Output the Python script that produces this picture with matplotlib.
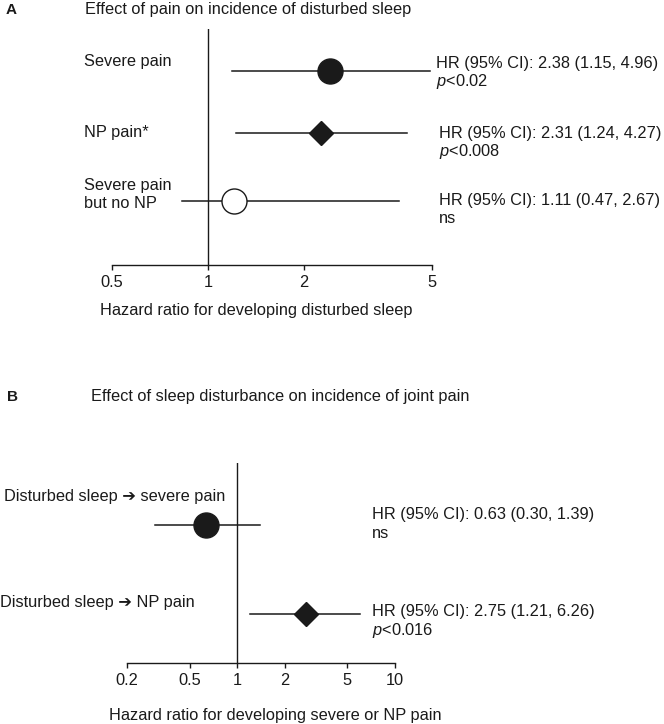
import matplotlib
matplotlib.use("Agg")
import matplotlib.pyplot as plt

plt.rcParams['font.family'] = ['Liberation Sans', 'DejaVu Sans']
plt.rcParams['mathtext.fontset'] = 'custom'
plt.rcParams['mathtext.rm'] = 'Liberation Sans'
plt.rcParams['mathtext.it'] = 'Liberation Sans:italic'

# --- data (hazard ratios as drawn, with 95% CI ends) ---
labels_a = ["Severe pain", "NP pain*", "Severe pain\nbut no NP"]
hr_a = [2.40, 2.25, 1.21]
lo_a = [1.19, 1.22, 0.83]
hi_a = [4.96, 4.20, 3.96]
stats_a = ["HR (95% CI): 2.38 (1.15, 4.96)", "HR (95% CI): 2.31 (1.24, 4.27)",
           "HR (95% CI): 1.11 (0.47, 2.67)"]
sig_a = ["$p$<0.02", "$p$<0.008", "ns"]
ticks_a = [0.5, 1, 2, 5]
ticklabels_a = ["0.5", "1", "2", "5"]

labels_b = ["Disturbed sleep \u2794 severe pain", "Disturbed sleep \u2794 NP pain"]
hr_b = [0.63, 2.75]
lo_b = [0.30, 1.21]
hi_b = [1.39, 6.00]
stats_b = ["HR (95% CI): 0.63 (0.30, 1.39)", "HR (95% CI): 2.75 (1.21, 6.26)"]
sig_b = ["ns", "$p$<0.016"]
ticks_b = [0.2, 0.5, 1, 2, 5, 10]
ticklabels_b = ["0.2", "0.5", "1", "2", "5", "10"]

# --- layout in pixels (664 x 724) ---
W, H = 664, 724
INK = '#1a1a1a'
FS = 11.8


def fx(x):
    return x / W


def fy(y):
    return 1 - y / H


def txt(x, y, s, **kw):
    fig.text(fx(x), fy(y), s, fontsize=kw.pop('fontsize', FS), color=INK,
             va='baseline', ha=kw.pop('ha', 'left'), **kw)


fig = plt.figure(figsize=(W / 100, H / 100), dpi=100)
fig.patch.set_facecolor('white')


def forest(left, right, top, bottom, xlim, rows, hr, lo, hi, markers, ticks, ticklabels):
    ax = fig.add_axes([fx(left), fy(bottom), (right - left) / W, (bottom - top) / H])
    ax.set_xscale('log')
    ax.set_xlim(*xlim)
    ax.set_ylim(bottom, top)
    ax.axvline(1, color=INK, lw=1.0)
    for y, h, l, u, (m, fc) in zip(rows, hr, lo, hi, markers):
        ax.plot([l, u], [y, y], color=INK, lw=1.1, zorder=2)
        ms = 12.5 if m == 'D' else 18
        ax.plot([h], [y], marker=m, ms=ms, mfc=fc, mec=INK, mew=1.0, zorder=3)
    for s in ['left', 'right', 'top']:
        ax.spines[s].set_visible(False)
    ax.spines['bottom'].set_linewidth(1.0)
    ax.spines['bottom'].set_color(INK)
    ax.set_yticks([])
    ax.set_xticks(ticks)
    ax.set_xticklabels(ticklabels)
    ax.xaxis.set_minor_locator(matplotlib.ticker.NullLocator())
    ax.tick_params(axis='x', direction='out', length=3.5, width=1.0,
                   colors=INK, labelsize=FS, pad=3.5)
    ax.patch.set_visible(False)
    return ax


# Panel A
rows_a = [71, 133, 201]
forest(111.7, 431.5, 29, 265, (0.5, 5), rows_a, hr_a, lo_a, hi_a,
       [('o', INK), ('D', INK), ('o', 'white')], ticks_a, ticklabels_a)

txt(6, 14, "A", fontweight='bold', fontsize=11)
txt(85, 14, "Effect of pain on incidence of disturbed sleep")

label_a_pos = [(84, 66), (84, 137), (84, 190)]
for (x, y), s in zip(label_a_pos, labels_a):
    for k, line in enumerate(s.split("\n")):
        txt(x, y + 18 * k, line)

stat_a_pos = [(436.5, 67.7), (439, 138.3), (439, 205)]
for (x, y), s, p in zip(stat_a_pos, stats_a, sig_a):
    txt(x, y, s)
    txt(x, y + 18, p)

txt(100, 315, "Hazard ratio for developing disturbed sleep")

# Panel B
rows_b = [525.3, 614]
forest(127.2, 394.8, 462.7, 663, (0.2, 10), rows_b, hr_b, lo_b, hi_b,
       [('o', INK), ('D', INK)], ticks_b, ticklabels_b)

txt(7, 400.7, "B", fontweight='bold', fontsize=11)
txt(91, 400.7, "Effect of sleep disturbance on incidence of joint pain")

label_b_pos = [(4, 500.5), (0, 607)]
for (x, y), s in zip(label_b_pos, labels_b):
    txt(x, y, s)

stat_b_pos = [(372.3, 519.3), (372.3, 616)]
for (x, y), s, p in zip(stat_b_pos, stats_b, sig_b):
    txt(x, y, s)
    txt(x, y + 19, p)

txt(109, 720, "Hazard ratio for developing severe or NP pain")

fig.savefig("out.png", dpi=100, facecolor='white')
